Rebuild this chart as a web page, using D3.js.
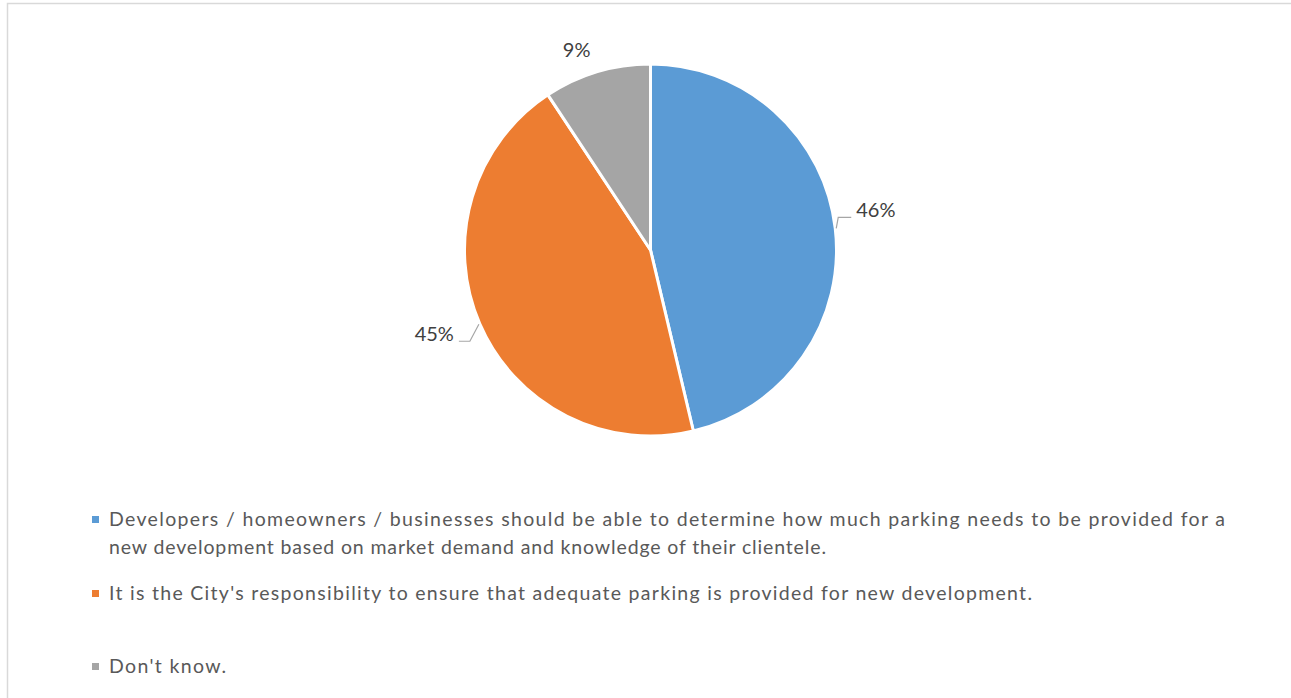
<!DOCTYPE html>
<html>
<head>
<meta charset="utf-8">
<script src="https://cdn.jsdelivr.net/npm/d3@7"></script>
<style>
  html, body { margin: 0; padding: 0; background: #fff; }
  svg { display: block; font-family: Lato, "Open Sans", sans-serif; }
</style>
</head>
<body>
<svg id="chart" width="1291" height="698"></svg>
<script>
// Parking responsibility pie — three answers, Excel-style layout.

const categories = [
  "Developers / homeowners / businesses should be able to determine how much parking needs to be provided for a new development based on market demand and knowledge of their clientele.",
  "It is the City's responsibility to ensure that adequate parking is provided for new development.",
  "Don't know."
];
const values = [46.3, 44.4, 9.3];
const pctLabels = ["46%", "45%", "9%"];
const colors = ["#5b9bd5", "#ed7d31", "#a5a5a5"];

// legend lines as wrapped in the original
const legendLines = [
  ["Developers / homeowners / businesses should be able to determine how much parking needs to be provided for a",
   "new development based on market demand and knowledge of their clientele."],
  ["It is the City's responsibility to ensure that adequate parking is provided for new development."],
  ["Don't know."]
];

const svg = d3.select("#chart");
const W = 1291, H = 698;
const cx = 650.5, cy = 250, R = 186;

// chart-area frame (runs off the right/bottom of the shot)
svg.append("rect")
  .attr("x", 7.5).attr("y", 3.5)
  .attr("width", W + 20).attr("height", H + 20)
  .attr("fill", "none").attr("stroke", "#d9d9d9").attr("stroke-width", 1.5);

const pie = d3.pie().sort(null).value((d) => d);
const arcs = pie(values);
const arc = d3.arc().innerRadius(0).outerRadius(R);

const g = svg.append("g").attr("transform", `translate(${cx},${cy})`);
g.selectAll("path.slice").data(arcs).join("path")
  .attr("class", "slice")
  .attr("d", arc)
  .attr("fill", (d, i) => colors[i])
  .attr("stroke", "#fff").attr("stroke-width", 3).attr("stroke-linejoin", "round");

// data labels: leader from the slice edge (at mid angle), elbow, then text
const labelLayout = [
  { elbow: [2, -11], run: 13, anchor: "start", leader: true },
  { elbow: [-9, 17], run: -11, anchor: "end", leader: true },
  { elbow: [-20, -14], run: 0, anchor: "middle", leader: false }
];
arcs.forEach((a, i) => {
  const L = labelLayout[i];
  const mid = (a.startAngle + a.endAngle) / 2;
  const sx = Math.sin(mid) * (R + 1), sy = -Math.cos(mid) * (R + 1);
  const ex = sx + L.elbow[0], ey = sy + L.elbow[1];
  const tx = ex + L.run;
  if (L.leader) {
    g.append("polyline")
      .attr("points", `${sx},${sy} ${ex},${ey} ${tx},${ey}`)
      .attr("fill", "none").attr("stroke", "#a6a6a6").attr("stroke-width", 1.2);
  }
  g.append("text")
    .attr("x", tx + (L.anchor === "start" ? 5 : L.anchor === "end" ? -5 : 0))
    .attr("y", ey)
    .attr("text-anchor", L.anchor)
    .attr("font-size", 20).attr("fill", "#404040")
    .text(pctLabels[i]);
});

// legend
const legendTop = [526, 600, 673];
const legendWidths = [[1116, 717], [923], [117]];
const lg = svg.append("g");
legendLines.forEach((lines, i) => {
  lg.append("rect")
    .attr("x", 92).attr("y", legendTop[i] - 10)
    .attr("width", 7).attr("height", 7)
    .attr("fill", colors[i]);
  lines.forEach((ln, j) => {
    lg.append("text")
      .attr("x", 109).attr("y", legendTop[i] + j * 28)
      .attr("font-size", 19.5).attr("fill", "#595959")
      .attr("textLength", legendWidths[i][j]).attr("lengthAdjust", "spacing")
      .text(ln);
  });
});
</script>
</body>
</html>
